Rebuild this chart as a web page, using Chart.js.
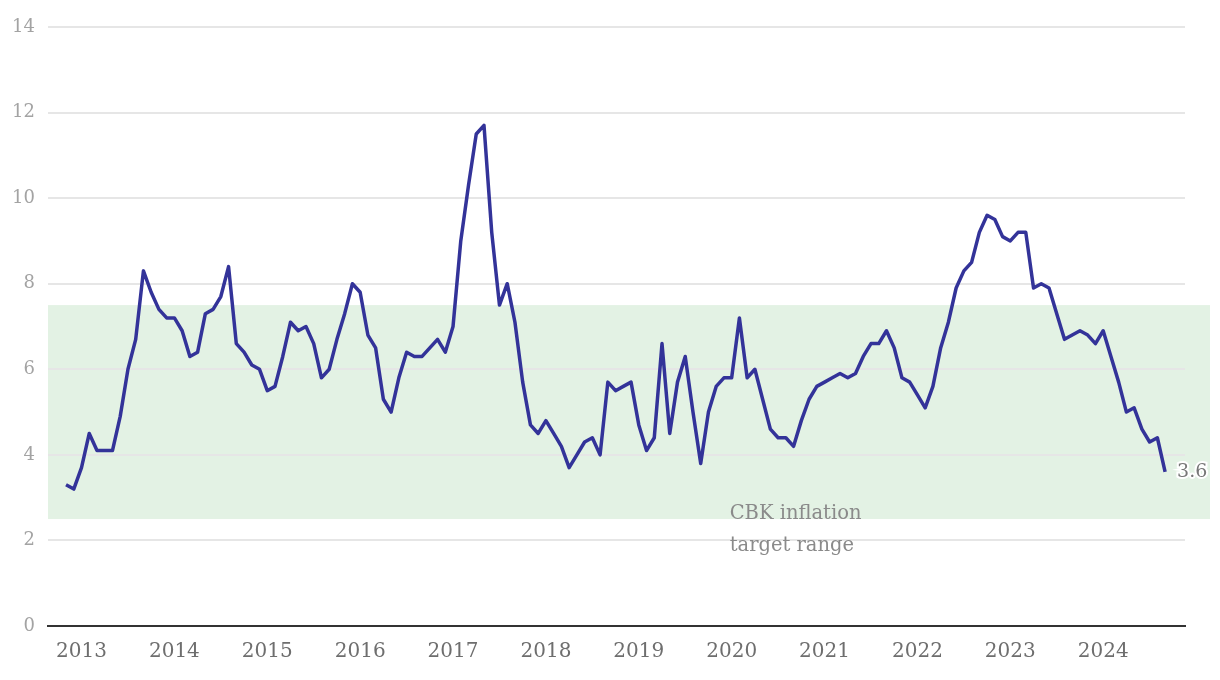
<!DOCTYPE html>
<html>
<head>
<meta charset="utf-8">
<script src="https://cdn.jsdelivr.net/npm/chart.js@4.4.1/dist/chart.umd.min.js"></script>
<style>
  html, body { margin: 0; padding: 0; background: #fff; }
  #wrap { width: 1220px; height: 680px; }
</style>
</head>
<body>
<div id="wrap"><canvas id="chart" width="1220" height="680"></canvas></div>
<script>
// Kenya CPI inflation, % year on year, monthly, Nov 2012 .. Sep 2024
const firstYear = 2012;
const firstMonth = 11;
const inflation = [
  3.3, 3.2,
  3.7, 4.5, 4.1, 4.1, 4.1, 4.9, 6.0, 6.7, 8.3, 7.8, 7.4, 7.2,   // 2013
  7.2, 6.9, 6.3, 6.4, 7.3, 7.4, 7.7, 8.4, 6.6, 6.4, 6.1, 6.0,   // 2014
  5.5, 5.6, 6.3, 7.1, 6.9, 7.0, 6.6, 5.8, 6.0, 6.7, 7.3, 8.0,   // 2015
  7.8, 6.8, 6.5, 5.3, 5.0, 5.8, 6.4, 6.3, 6.3, 6.5, 6.7, 6.4,   // 2016
  7.0, 9.0, 10.3, 11.5, 11.7, 9.2, 7.5, 8.0, 7.1, 5.7, 4.7, 4.5, // 2017
  4.8, 4.5, 4.2, 3.7, 4.0, 4.3, 4.4, 4.0, 5.7, 5.5, 5.6, 5.7,   // 2018
  4.7, 4.1, 4.4, 6.6, 4.5, 5.7, 6.3, 5.0, 3.8, 5.0, 5.6, 5.8,   // 2019
  5.8, 7.2, 5.8, 6.0, 5.3, 4.6, 4.4, 4.4, 4.2, 4.8, 5.3, 5.6,   // 2020
  5.7, 5.8, 5.9, 5.8, 5.9, 6.3, 6.6, 6.6, 6.9, 6.5, 5.8, 5.7,   // 2021
  5.4, 5.1, 5.6, 6.5, 7.1, 7.9, 8.3, 8.5, 9.2, 9.6, 9.5, 9.1,   // 2022
  9.0, 9.2, 9.2, 7.9, 8.0, 7.9, 7.3, 6.7, 6.8, 6.9, 6.8, 6.6,   // 2023
  6.9, 6.3, 5.7, 5.0, 5.1, 4.6, 4.3, 4.4, 3.6                   // 2024
];
const yearLabels = [2013, 2014, 2015, 2016, 2017, 2018, 2019, 2020, 2021, 2022, 2023, 2024];
const yTicks = [0, 2, 4, 6, 8, 10, 12, 14];
const targetRange = [2.5, 7.5];
const targetLabel = ['CBK inflation', 'target range'];
const targetLabelYear = 2020;

const SERIF = "'DejaVu Serif', 'Liberation Serif', serif";

function monthIndex(year, month) {
  return (year - firstYear) * 12 + (month - firstMonth);
}

const points = inflation.map((v, i) => ({x: i, y: v}));

const bgPlugin = {
  id: 'bg',
  beforeDraw(chart) {
    const {ctx, chartArea: a, scales: {y}} = chart;
    ctx.save();
    ctx.fillStyle = '#ffffff';
    ctx.fillRect(0, 0, chart.width, chart.height);
    const top = y.getPixelForValue(targetRange[1]);
    const bot = y.getPixelForValue(targetRange[0]);
    ctx.fillStyle = '#e3f2e4';
    ctx.fillRect(a.left, top, a.right + 25 - a.left, bot - top);
    ctx.restore();
  }
};

const labelPlugin = {
  id: 'labels',
  afterDatasetsDraw(chart) {
    const {ctx, scales: {x, y}} = chart;
    ctx.save();
    // band note
    ctx.font = '19.5px ' + SERIF;
    ctx.fillStyle = '#8a8a8a';
    ctx.textAlign = 'left';
    ctx.textBaseline = 'alphabetic';
    const tx = x.getPixelForValue(monthIndex(targetLabelYear, 1)) - 2;
    const ty = y.getPixelForValue(targetRange[0]);
    ctx.fillText(targetLabel[0], tx, ty);
    ctx.fillText(targetLabel[1], tx, ty + 32);
    // last value
    const meta = chart.getDatasetMeta(0);
    const last = meta.data[meta.data.length - 1];
    const txt = String(inflation[inflation.length - 1]);
    ctx.font = '19px ' + SERIF;
    ctx.textBaseline = 'middle';
    ctx.lineWidth = 4;
    ctx.strokeStyle = '#ffffff';
    ctx.strokeText(txt, last.x + 12, last.y);
    ctx.fillStyle = '#777777';
    ctx.fillText(txt, last.x + 12, last.y);
    ctx.restore();
  }
};

new Chart(document.getElementById('chart').getContext('2d'), {
  type: 'line',
  data: {
    datasets: [{
      data: points,
      borderColor: '#333399',
      borderWidth: 3.5,
      pointRadius: 0,
      tension: 0,
      borderJoinStyle: 'round',
      fill: false
    }]
  },
  options: {
    responsive: false,
    animation: false,
    events: [],
    layout: {padding: {top: 27, right: 35, left: 0, bottom: 0}},
    plugins: {legend: {display: false}, tooltip: {enabled: false}},
    scales: {
      x: {
        type: 'linear',
        min: -2.33,
        max: 144.57,
        afterFit(s) { s.height = 54; },
        afterBuildTicks(s) {
          s.ticks = yearLabels.map(yr => ({value: monthIndex(yr, 1)}));
        },
        ticks: {
          autoSkip: false,
          maxRotation: 0,
          padding: 14,
          color: '#6e6e6e',
          font: {family: SERIF, size: 20},
          callback: v => firstYear + Math.floor((v + firstMonth - 1) / 12)
        },
        grid: {display: false, drawTicks: false},
        border: {display: true, color: '#333333', width: 2}
      },
      y: {
        min: 0,
        max: 14,
        afterFit(s) { s.width = 48; },
        afterBuildTicks(s) {
          s.ticks = yTicks.map(v => ({value: v}));
        },
        ticks: {
          padding: 13,
          color: '#a3a3a3',
          font: {family: SERIF, size: 18}
        },
        grid: {color: '#e6e6e6', lineWidth: 2, drawTicks: false},
        border: {display: false}
      }
    }
  },
  plugins: [bgPlugin, labelPlugin]
});
</script>
</body>
</html>
